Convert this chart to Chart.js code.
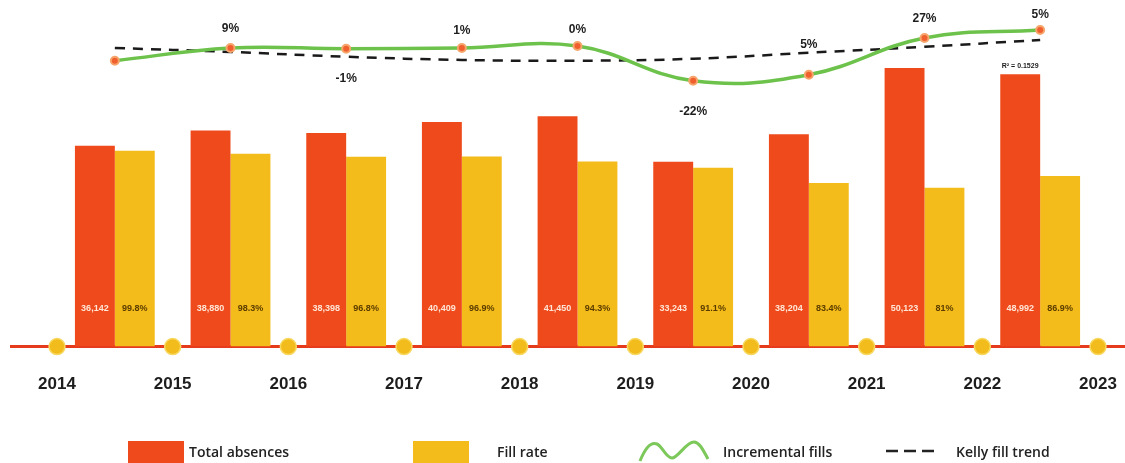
<!DOCTYPE html>
<html>
<head>
<meta charset="utf-8">
<script src="https://cdn.jsdelivr.net/npm/chart.js@4"></script>
<style>
  html, body { margin: 0; padding: 0; background: #fff; }
  #wrap { position: relative; width: 1125px; height: 463px; overflow: hidden; }
  #chart { position: absolute; left: 0; top: 0; }
  .sw { position: absolute; top: 441px; width: 56px; height: 26px; }
  .lg { position: absolute; top: 441px; font: 600 14px "Open Sans", sans-serif; color: #222; line-height: 22px; white-space: nowrap; }
</style>
</head>
<body>
<div id="wrap">
  <canvas id="chart" width="1125" height="463"></canvas>
  <div class="sw" style="left:128px;background:#EE4A1C"></div>
  <div class="lg" style="left:189px">Total absences</div>
  <div class="sw" style="left:413px;background:#F4BC1A"></div>
  <div class="lg" style="left:497px">Fill rate</div>
  <svg style="position:absolute;left:638px;top:436px" width="74" height="27">
    <path d="M2 25 C 8 10, 14 6, 19 8 C 24 10, 28 22, 34 22 C 40 22, 48 6, 56 6 C 62 6, 66 16, 70 23" fill="none" stroke="#7CC85A" stroke-width="3"/>
  </svg>
  <div class="lg" style="left:723px">Incremental fills</div>
  <svg style="position:absolute;left:886px;top:446px" width="50" height="10">
    <line x1="0" y1="5" x2="48" y2="5" stroke="#222" stroke-width="2.5" stroke-dasharray="12 6"/>
  </svg>
  <div class="lg" style="left:956px">Kelly fill trend</div>
</div>
<script>
// data
const periods = [2014, 2015, 2016, 2017, 2018, 2019, 2020, 2021, 2022];
const yearTicks = [2014, 2015, 2016, 2017, 2018, 2019, 2020, 2021, 2022, 2023];
const totalAbsences = [36142, 38880, 38398, 40409, 41450, 33243, 38204, 50123, 48992];
const fillRate = [99.8, 98.3, 96.8, 96.9, 94.3, 91.1, 83.4, 81, 86.9];
const incrementalFills = [34900, 38100, 37900, 38100, 38600, 29900, 31400, 40600, 42600];
const fillChange = ['', '9%', '-1%', '1%', '0%', '-22%', '5%', '27%', '5%'];
const kellyTrend = [38100, 37100, 35900, 35100, 34900, 35400, 36900, 38400, 40100];
const trendR2 = 'R² = 0.1529';

const RED = '#EE4A1C';
const YELLOW = '#F4BC1A';
const GREEN = '#6CC24A';

// each period is plotted half-way between its year tick and the next one
const atMid = (vals) => periods.map((p, i) => ({ x: p + 0.5, y: vals[i] }));

// label offsets (px) for the % change labels above/below the green line
const changeOffset = [0, -19, 30, -17, -16, 31, -30, -19, -15];

const annotate = {
  id: 'annotate',
  beforeDatasetsDraw(chart) {
    const { ctx } = chart;
    const y0 = chart.scales.y.getPixelForValue(0);
    ctx.save();
    ctx.strokeStyle = '#E63A1C';
    ctx.lineWidth = 3;
    ctx.beginPath();
    ctx.moveTo(10, y0);
    ctx.lineTo(chart.width, y0);
    ctx.stroke();
    ctx.restore();
  },
  afterDatasetsDraw(chart) {
    const { ctx } = chart;
    const y0 = chart.scales.y.getPixelForValue(0);
    ctx.save();
    ctx.textAlign = 'center';
    ctx.textBaseline = 'middle';
    ctx.font = 'bold 9px "Liberation Sans", Arial, sans-serif';
    chart.getDatasetMeta(0).data.forEach((bar, i) => {
      ctx.fillStyle = '#FFE6D6';
      ctx.fillText(totalAbsences[i].toLocaleString('en-US'), bar.x, y0 - 38);
    });
    chart.getDatasetMeta(1).data.forEach((bar, i) => {
      ctx.fillStyle = '#5A3C00';
      ctx.fillText(fillRate[i] + '%', bar.x, y0 - 38);
    });
    ctx.font = 'bold 12px "Liberation Sans", Arial, sans-serif';
    ctx.fillStyle = '#1d1d1d';
    chart.getDatasetMeta(2).data.forEach((pt, i) => {
      if (fillChange[i]) ctx.fillText(fillChange[i], pt.x, pt.y + changeOffset[i]);
    });
    const trendMeta = chart.getDatasetMeta(3).data;
    const last = trendMeta[trendMeta.length - 1];
    ctx.font = 'bold 7px "Liberation Sans", Arial, sans-serif';
    ctx.fillText(trendR2, last.x - 20, last.y + 26);
    ctx.restore();
  }
};

new Chart(document.getElementById('chart'), {
  data: {
    datasets: [
      {
        type: 'bar',
        label: 'Total absences',
        data: atMid(totalAbsences),
        backgroundColor: RED,
        yAxisID: 'y',
        categoryPercentage: 0.69,
        barPercentage: 1,
        order: 3
      },
      {
        type: 'bar',
        label: 'Fill rate',
        data: atMid(fillRate),
        backgroundColor: YELLOW,
        yAxisID: 'y2',
        categoryPercentage: 0.69,
        barPercentage: 1,
        order: 3
      },
      {
        type: 'line',
        label: 'Incremental fills',
        data: atMid(incrementalFills),
        yAxisID: 'y3',
        borderColor: GREEN,
        borderWidth: 3.5,
        tension: 0.4,
        pointRadius: 4,
        pointBackgroundColor: '#F0602E',
        pointBorderColor: '#F6A66C',
        pointBorderWidth: 2,
        order: 1
      },
      {
        type: 'line',
        label: 'Kelly fill trend',
        data: atMid(kellyTrend),
        yAxisID: 'y3',
        borderColor: '#1a1a1a',
        borderWidth: 2.5,
        borderDash: [10, 8],
        tension: 0.4,
        pointRadius: 0,
        order: 2
      },
      {
        type: 'line',
        label: 'years',
        data: yearTicks.map(y => ({ x: y, y: 0 })),
        yAxisID: 'y',
        showLine: false,
        pointRadius: 8,
        pointBackgroundColor: '#F2BD1C',
        pointBorderColor: '#F8D860',
        pointBorderWidth: 1.5,
        clip: false,
        order: 0
      }
    ]
  },
  options: {
    responsive: false,
    animation: false,
    layout: { padding: { left: 57, right: 27, top: 13, bottom: 66 } },
    plugins: {
      legend: { display: false },
      tooltip: { enabled: false }
    },
    scales: {
      x: {
        type: 'linear',
        position: 'bottom',
        offset: false,
        min: 2014,
        max: 2023,
        afterBuildTicks: (axis) => { axis.ticks = yearTicks.map(v => ({ value: v })); },
        grid: { display: false, drawTicks: true, tickLength: 26 },
        border: { display: false },
        ticks: {
          padding: 2,
          color: '#1d1d1d',
          font: { family: '"Liberation Sans", Arial, sans-serif', size: 17, weight: 'bold' },
          callback: (v) => String(v)
        }
      },
      y: { display: false, min: 0, max: 60000 },
      y2: { display: false, min: 0, max: 170 },
      y3: { display: false, min: -36650, max: 46850 }
    }
  },
  plugins: [annotate]
});
</script>
</body>
</html>
